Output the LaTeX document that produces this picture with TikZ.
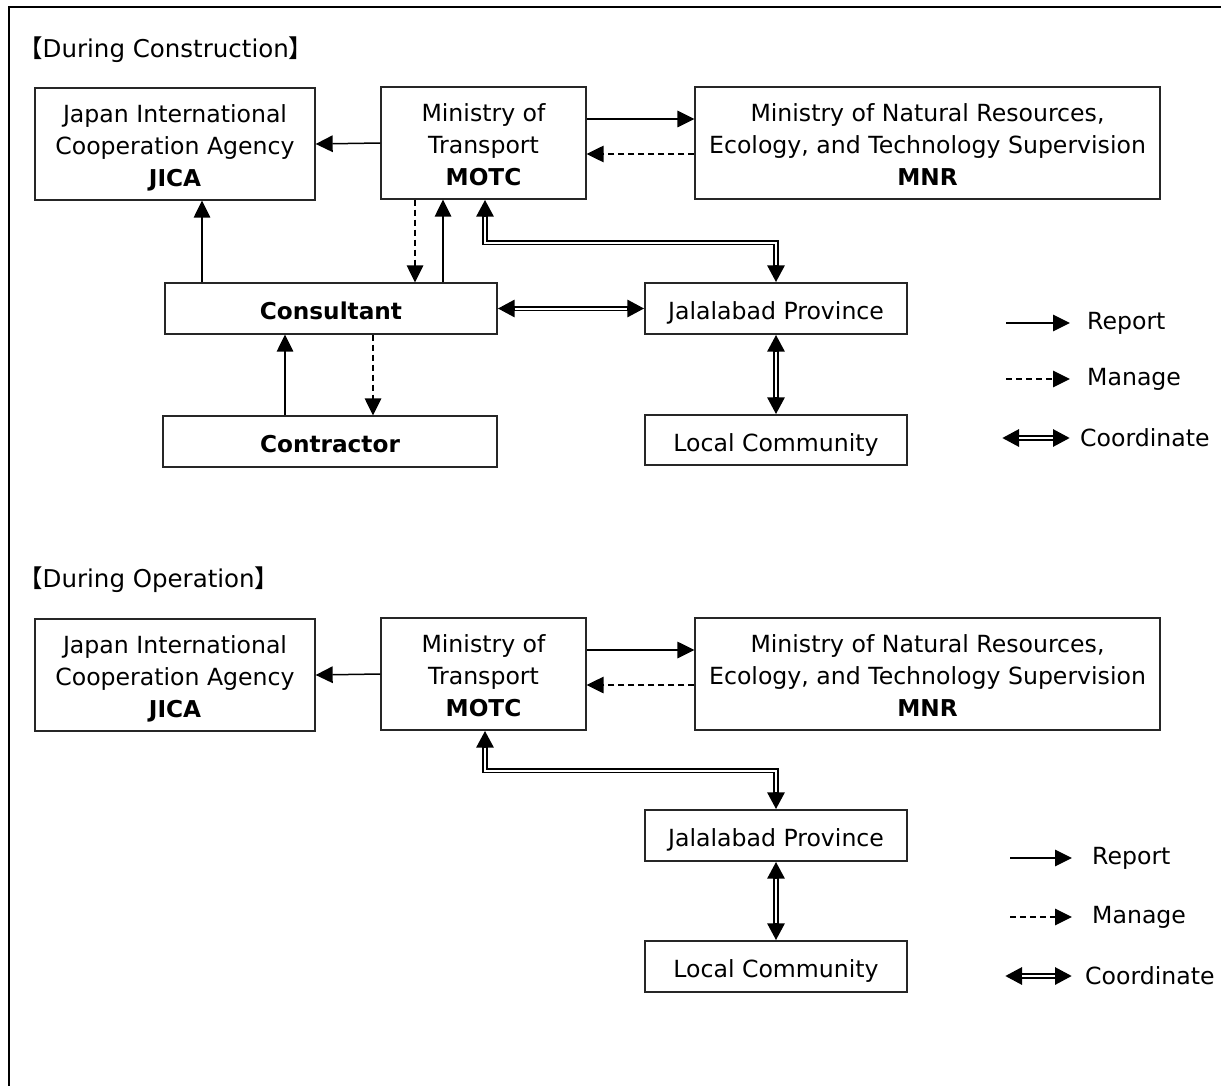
\documentclass[tikz,border=0pt]{standalone}
\usepackage{fontspec}
\setmainfont{DejaVu Sans}
\newfontfamily\cjkfont{Noto Sans CJK JP}
\usetikzlibrary{arrows.meta}
\newcommand\bt[1]{{\fontsize{23.2}{32}\selectfont\bfseries #1}}
\tikzset{
  Tri/.tip={Triangle[length=17pt,width=16.5pt]},
  box/.style={draw=black!85, line width=1.3pt, inner sep=0pt, align=center,
    font=\fontsize{23.6}{32}\selectfont},
  tbox/.style={box, minimum height=112pt, text height=85pt, text depth=0pt},
  sbox/.style={box, minimum height=51pt, text height=22pt, text depth=0pt},
  lbl/.style={inner sep=0pt, anchor=west, font=\fontsize{23.6}{32}\selectfont},
  ttl/.style={inner sep=0pt, anchor=west, font=\fontsize{24.5}{32}\selectfont},
  rep/.style={line width=1.5pt, -Tri},
  mng/.style={line width=1.5pt, dash pattern=on 6pt off 4pt, -Tri},
  coord/.style={line width=5.2pt, Tri-Tri,
    postaction={draw=white, line width=2pt, -, shorten <=17pt, shorten >=17pt}},
}
\begin{document}
\begin{tikzpicture}[x=1pt,y=-1pt]
\useasboundingbox (0,0) rectangle (1221,1086);
\draw[line width=2pt] (9,1086) -- (9,7) -- (1221,7);

% ---------- During Construction ----------
\node[ttl] (t1) at (18,50) {{\cjkfont 【}During Construction{\cjkfont 】}};

\node[tbox, minimum width=280pt] (jica) at (175,144)
  {Japan International\\Cooperation Agency\\\bt{JICA}};
\node[tbox, minimum width=205pt] (motc) at (483.5,143)
  {Ministry of\\Transport\\\bt{MOTC}};
\node[tbox, minimum width=465pt] (mnr) at (927.5,143)
  {Ministry of Natural Resources,\\Ecology, and Technology Supervision\\\bt{MNR}};
\node[sbox, minimum width=332pt] (cons) at (331,308.5)
  {\bt{Consultant}};
\node[sbox, minimum width=334pt] (contr) at (330,441.5)
  {\bt{Contractor}};
\node[sbox, minimum width=262pt] (jal) at (776,308.5)
  {Jalalabad Province};
\node[sbox, minimum width=262pt, minimum height=50pt] (loc) at (776,440)
  {Local Community};

\draw[rep] (motc.west) -- (jica.east);
\draw[rep] ([yshift=24pt]motc.east) -- ([yshift=24pt]motc.east -| mnr.west);
\draw[mng] ([yshift=-11pt]mnr.west) -- ([yshift=-11pt]mnr.west -| motc.east);
\draw[mng] ([xshift=-68.5pt]motc.south) -- ([xshift=-68.5pt]motc.south |- cons.north);
\draw[rep] ([xshift=-40.5pt]motc.south |- cons.north) -- ([xshift=-40.5pt]motc.south);
\draw[rep] ([xshift=-129pt]cons.north) -- ([xshift=-129pt]cons.north |- jica.south);
\draw[coord] ([xshift=1.5pt]motc.south) -- ++(0,43) -| (jal.north);
\draw[coord] (cons.east) -- (jal.west);
\draw[rep] ([xshift=-45pt]contr.north) -- ([xshift=-45pt]contr.north |- cons.south);
\draw[mng] ([xshift=42pt]cons.south) -- ([xshift=42pt]cons.south |- contr.north);
\draw[coord] (jal.south) -- (loc.north);

% legend 1
\coordinate (ra1) at (1006,323); \coordinate (rb1) at (1070,323);
\coordinate (ma1) at (1006,379); \coordinate (mb1) at (1070,379);
\coordinate (ca1) at (1002,438); \coordinate (cb1) at (1070,438);
\draw[rep] (ra1) -- (rb1);
\draw[mng] (ma1) -- (mb1);
\draw[coord] (ca1) -- (cb1);
\node[lbl] (lr1) at (1087,323) {Report};
\node[lbl] (lm1) at (1087,379) {Manage};
\node[lbl] (lc1) at (1080,438) {Coordinate};

% ---------- During Operation ----------
\node[ttl] (t2) at (18,580) {{\cjkfont 【}During Operation{\cjkfont 】}};

\node[tbox, minimum width=280pt] (jica2) at (175,675)
  {Japan International\\Cooperation Agency\\\bt{JICA}};
\node[tbox, minimum width=205pt] (motc2) at (483.5,674)
  {Ministry of\\Transport\\\bt{MOTC}};
\node[tbox, minimum width=465pt] (mnr2) at (927.5,674)
  {Ministry of Natural Resources,\\Ecology, and Technology Supervision\\\bt{MNR}};
\node[sbox, minimum width=262pt] (jal2) at (776,835.5)
  {Jalalabad Province};
\node[sbox, minimum width=262pt] (loc2) at (776,966.5)
  {Local Community};

\draw[rep] (motc2.west) -- (jica2.east);
\draw[rep] ([yshift=24pt]motc2.east) -- ([yshift=24pt]motc2.east -| mnr2.west);
\draw[mng] ([yshift=-11pt]mnr2.west) -- ([yshift=-11pt]mnr2.west -| motc2.east);
\draw[coord] ([xshift=1.5pt]motc2.south) -- ++(0,40) -| (jal2.north);
\draw[coord] (jal2.south) -- (loc2.north);

% legend 2
\coordinate (ra2) at (1010,858); \coordinate (rb2) at (1072,858);
\coordinate (ma2) at (1010,917); \coordinate (mb2) at (1072,917);
\coordinate (ca2) at (1005,976); \coordinate (cb2) at (1072,976);
\draw[rep] (ra2) -- (rb2);
\draw[mng] (ma2) -- (mb2);
\draw[coord] (ca2) -- (cb2);
\node[lbl] (lr2) at (1092,858) {Report};
\node[lbl] (lm2) at (1092,917) {Manage};
\node[lbl] (lc2) at (1085,976) {Coordinate};
\end{tikzpicture}
\end{document}
